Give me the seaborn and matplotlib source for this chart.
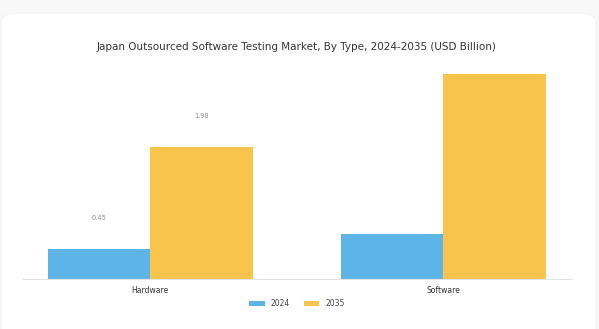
import matplotlib
matplotlib.use("Agg")
import matplotlib.pyplot as plt
from matplotlib.patches import FancyBboxPatch
import seaborn as sns
import pandas as pd

categories = ["Hardware", "Software"]
years = ["2024", "2035"]
values_2024 = [0.45, 0.68]
values_2035 = [1.98, 3.08]
label_flags = [True, False]  # only Hardware bars carry value labels

colors = {"2024": "#5db4e6", "2035": "#f8c44c"}

df = pd.DataFrame({
    "Type": categories * 2,
    "Year": [years[0]] * len(categories) + [years[1]] * len(categories),
    "Value": values_2024 + values_2035,
})

sns.set_theme(style="white")
plt.rcParams["font.family"] = ["DejaVu Sans"]

W, H = 599, 329
fig = plt.figure(figsize=(W / 100, H / 100), dpi=100)
fig.patch.set_facecolor("#f8f8f8")
card = FancyBboxPatch((1 / W, -0.1), 595 / W, (316 / H) + 0.1,
                      boxstyle="round,pad=0,rounding_size=0.03",
                      transform=fig.transFigure, facecolor="white",
                      edgecolor="#f0f0f0", linewidth=0.6, zorder=-5)
fig.patches.append(card)

left, right = 23 / W, 572 / W
bottom, top = (H - 279) / H, (H - 60) / H
ax = fig.add_axes([left, bottom, right - left, top - bottom])
ax.set_facecolor("none")
ax.set_zorder(2)

sns.barplot(data=df, x="Type", y="Value", hue="Year", order=categories,
            hue_order=years, palette=colors, width=0.7, gap=0,
            saturation=1, linewidth=0, edgecolor="none", ax=ax, legend=True)

ax.set_xlim(-0.434, 1.44)
ax.set_ylim(0, 3.285)
ax.set_xlabel("")
ax.set_ylabel("")
ax.set_yticks([])
for s in ["top", "left", "right"]:
    ax.spines[s].set_visible(False)
ax.spines["bottom"].set_color("#e3e3e3")
ax.spines["bottom"].set_linewidth(0.8)
ax.tick_params(axis="x", labelsize=5.5, colors="#333333", length=3,
               width=0.6, color="#888888", pad=2)

# value labels for Hardware
for container, yr in zip(ax.containers, years):
    for bar, cat, flag in zip(container, categories, label_flags):
        if flag:
            v = bar.get_height()
            ax.text(bar.get_x() + bar.get_width() / 2, v + 0.46, f"{v:.2f}",
                    ha="center", va="center", fontsize=4.8, color="#8a8a8a")

fig.text(297 / W, (H - 47) / H,
         "Japan Outsourced Software Testing Market, By Type, 2024-2035 (USD Billion)",
         ha="center", va="center", fontsize=7.5, color="#333333")

handles, labels = ax.get_legend_handles_labels()
ax.legend(handles, labels, loc="center", bbox_to_anchor=(297 / W, (H - 303.5) / H),
          bbox_transform=fig.transFigure, ncol=2, frameon=False,
          fontsize=5.5, handlelength=2.0, handleheight=0.7, columnspacing=1.8,
          handletextpad=0.8, labelcolor="#444444")

fig.savefig("out.png", dpi=100, facecolor=fig.get_facecolor())
